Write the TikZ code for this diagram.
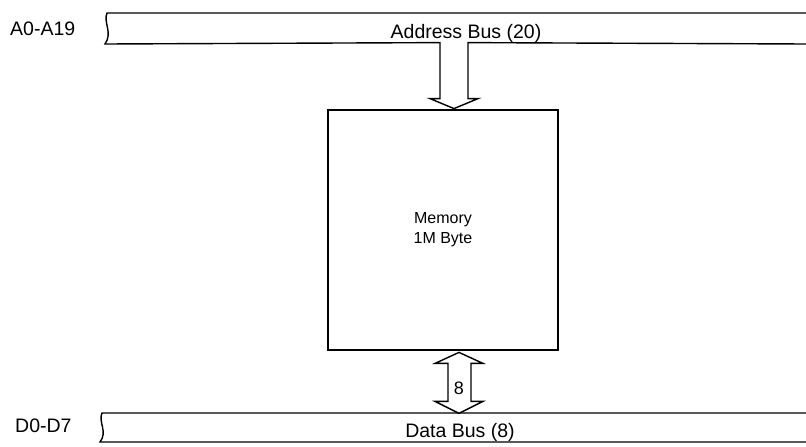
\documentclass[tikz,border=0pt]{standalone}
\usepackage{fontspec}
\setmainfont{Liberation Sans}
\usetikzlibrary{calc}

\begin{document}
\begin{tikzpicture}[x=1pt, y=-1pt,
    busline/.style={line width=1.4pt, black},
    membox/.style={draw, line width=2.8pt, minimum width=230pt, minimum height=240pt, inner sep=0pt, align=center, font=\fontsize{16}{20}\selectfont},
    buslabel/.style={font=\fontsize{19.5}{22}\selectfont, inner sep=0pt},
    widthlabel/.style={font=\fontsize{18}{20}\selectfont, inner sep=0pt}]
    \useasboundingbox (0,0) rectangle (806,447);

    % Memory block
    \node[membox] (mem) at (443,230) {Memory\\1M Byte};

    % Address bus with its hollow arrow into the memory
    \coordinate (atip) at ([xshift=11pt]mem.north);
    \draw[busline, line join=miter] (806,13) -- (107,13)
        .. controls (103,22) and (113,33) .. (105,44) -- ($(atip)+(-14,-66)$)
        -- ($(atip)+(-14,-10)$) -- ($(atip)+(-24,-10)$) -- (atip)
        -- ($(atip)+(24,-10)$) -- ($(atip)+(14,-10)$) -- ($(atip)+(14,-66)$)
        -- (806,44);
    \node[buslabel, anchor=base west] (alabel) at (10,35) {A0-A19};
    \node[buslabel, anchor=base] (abus) at (466,38) {Address Bus (20)};

    % Data bus
    \draw[busline] (806,413) -- (102,413)
        .. controls (98,422) and (108,432) .. (100,442) -- (806,442);
    \node[buslabel, anchor=base west] (dlabel) at (15,432) {D0-D7};
    \node[buslabel, anchor=base] (dbus) at (460,437) {Data Bus (8)};

    % Two-way hollow arrow between memory and data bus
    \coordinate (dtop) at ([xshift=16pt, yshift=-1pt]mem.south);
    \coordinate (dbot) at ($(dtop)+(0,61)$);
    \draw[busline, line join=miter] (dtop) -- ($(dtop)+(24,11)$) -- ($(dtop)+(12,11)$)
        -- ($(dbot)+(12,-12)$) -- ($(dbot)+(24,-12)$) -- (dbot)
        -- ($(dbot)+(-24,-12)$) -- ($(dbot)+(-11,-12)$) -- ($(dtop)+(-11,11)$)
        -- ($(dtop)+(-24,11)$) -- cycle;
    \node[widthlabel, anchor=base] (dwidth) at ($(dtop)+(0,42)$) {8};

\end{tikzpicture}
\end{document}
